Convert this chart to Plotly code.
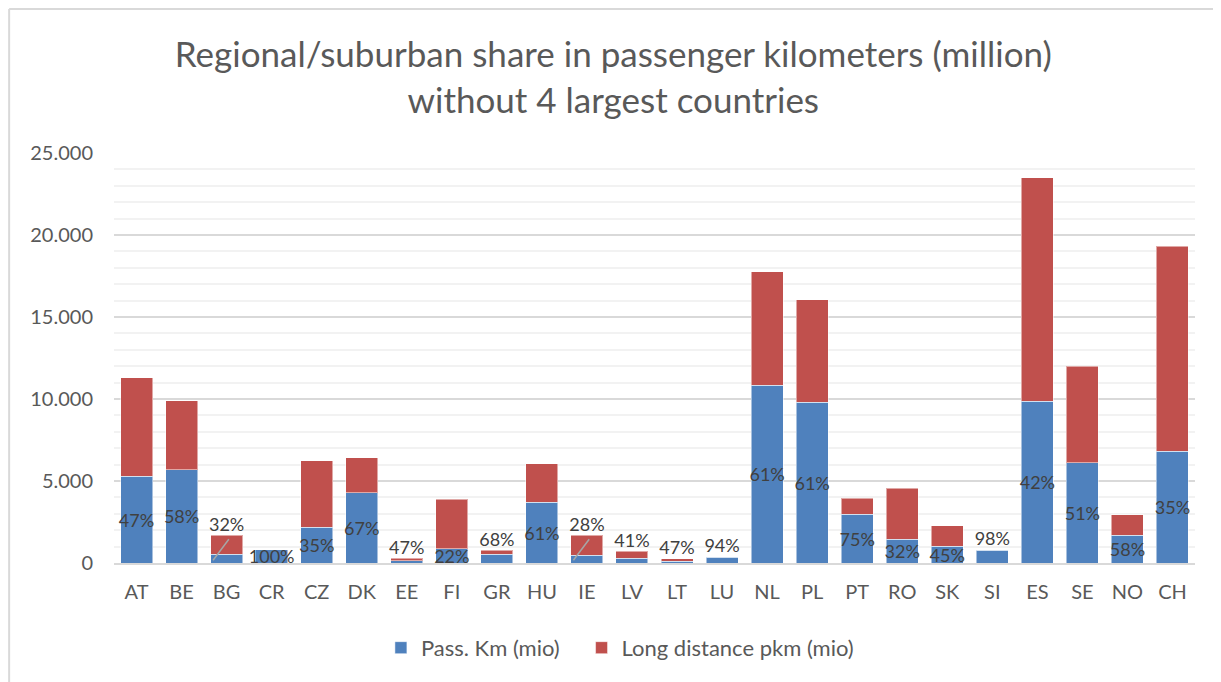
import plotly.graph_objects as go

countries = ["AT", "BE", "BG", "CR", "CZ", "DK", "EE", "FI", "GR", "HU", "IE", "LV",
             "LT", "LU", "NL", "PL", "PT", "RO", "SK", "SI", "ES", "SE", "NO", "CH"]
regional_pkm = [5300, 5700, 545, 800, 2190, 4290, 141, 860, 537, 3690, 476, 300,
                118, 348, 10830, 9790, 2970, 1460, 1020, 784, 9870, 6120, 1700, 6800]
long_pkm = [6000, 4180, 1155, 0, 4040, 2130, 159, 3040, 253, 2360, 1224, 430,
            132, 22, 6920, 6260, 990, 3110, 1240, 16, 13630, 5880, 1230, 12500]
share_labels = ["47%", "58%", "32%", "100%", "35%", "67%", "47%", "22%", "68%", "61%", "28%", "41%",
                "47%", "94%", "61%", "61%", "75%", "32%", "45%", "98%", "42%", "51%", "58%", "35%"]
# labels that were dragged above the stack in the original (tiny bars)
label_above = ["BG", "EE", "GR", "IE", "LV", "LT", "LU", "SI"]
leader_lines = ["BG", "IE"]

BLUE, RED = "#4F81BD", "#C0504D"
TXT = "#595959"
FONT = "Lato, Noto Sans, sans-serif"

totals = [r + l for r, l in zip(regional_pkm, long_pkm)]
inside_txt = ["" if c in label_above else s for c, s in zip(countries, share_labels)]
above_x = [c for c in countries if c in label_above]
above_y = [t for c, t in zip(countries, totals) if c in label_above]
above_t = [s for c, s in zip(countries, share_labels) if c in label_above]

fig = go.Figure()
# trailing nbsp only widens the gap between the two legend entries
fig.add_trace(go.Bar(x=countries, y=regional_pkm, name="Pass. Km (mio)\u00a0\u00a0\u00a0",
                     marker=dict(color=BLUE, line=dict(color="rgba(255,255,255,0.5)", width=1)),
                     text=inside_txt, textposition="inside", insidetextanchor="middle",
                     constraintext="none", textangle=0,
                     insidetextfont=dict(color="#404040", size=18, family=FONT)))
fig.add_trace(go.Bar(x=countries, y=long_pkm, name="Long distance pkm (mio)",
                     marker=dict(color=RED, line=dict(color="rgba(255,255,255,0.5)", width=1))))
fig.add_trace(go.Scatter(x=above_x, y=above_y, mode="text", text=above_t,
                         textposition="top center", showlegend=False, hoverinfo="skip",
                         textfont=dict(color="#404040", size=18, family=FONT)))

shapes = []
for c, t in zip(countries, totals):
    if c in leader_lines:
        shapes.append(dict(type="line", xref="x", yref="y", x0=c, x1=c, x0shift=-0.3, x1shift=0.05,
                           y0=t * 0.1, y1=t * 0.85, line=dict(color="#a6a6a6", width=1.5)))
# outer chart border (top + left visible in the original)
shapes.append(dict(type="line", xref="paper", yref="paper", x0=-0.097, x1=1.1, y0=1.351, y1=1.351,
                   line=dict(color="#d9d9d9", width=2)))
shapes.append(dict(type="line", xref="paper", yref="paper", x0=-0.097, x1=-0.097, y0=-0.4, y1=1.351,
                   line=dict(color="#d9d9d9", width=2)))

fig.update_layout(
    barmode="stack", bargap=0.29, width=1213, height=674,
    separators=",.",
    paper_bgcolor="white", plot_bgcolor="white",
    font=dict(family=FONT, color=TXT, size=20),
    title=dict(text="Regional/suburban share in passenger kilometers (million)<br>without 4 largest countries",
               x=0.499, xanchor="center", y=0.912, yanchor="top",
               font=dict(size=35, color=TXT, family=FONT)),
    margin=dict(l=106, r=26, t=145, b=119),
    xaxis=dict(showline=True, linecolor="#d9d9d9", linewidth=2, ticks="", ticklabelstandoff=10,
               tickfont=dict(size=20, color=TXT), fixedrange=True),
    yaxis=dict(range=[0, 25000], dtick=5000, tickformat=",d", showline=False,
               gridcolor="#d9d9d9", gridwidth=1.5, zeroline=False, ticklabelstandoff=20,
               minor=dict(dtick=1000, showgrid=True, gridcolor="#f2f2f2", gridwidth=1.5),
               tickfont=dict(size=20, color=TXT)),
    legend=dict(orientation="h", x=0.468, xanchor="center", y=-0.207, yanchor="middle",
                font=dict(size=22, color=TXT), traceorder="normal"),
    shapes=shapes,
)
fig.write_html("out.html")
